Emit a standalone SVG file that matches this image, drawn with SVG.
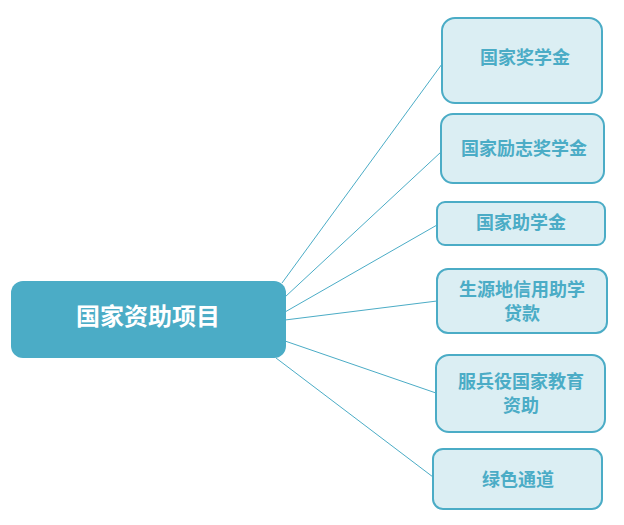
<svg xmlns="http://www.w3.org/2000/svg" width="624" height="525" viewBox="0 0 624 525">
<style>
.leaf{fill:#DBEEF3;stroke:#4BACC6;stroke-width:2}
.lt{font-family:"Noto Sans CJK SC",sans-serif;font-weight:bold;font-size:18px;fill:#4BACC6;text-anchor:middle}
.rt{font-family:"Noto Sans CJK SC",sans-serif;font-weight:bold;font-size:24px;fill:#FFFFFF;text-anchor:middle}
.c{stroke:#4BACC6;stroke-width:1;fill:none}
</style>
<rect width="624" height="525" fill="#FFFFFF"/>
<g id="connectors">
<line class="c" x1="282" y1="283" x2="442" y2="64"/>
<line class="c" x1="285" y1="297" x2="441" y2="152"/>
<line class="c" x1="285" y1="312" x2="437" y2="225"/>
<line class="c" x1="285" y1="320" x2="437" y2="301"/>
<line class="c" x1="285" y1="341" x2="436" y2="393"/>
<line class="c" x1="276" y1="358" x2="433" y2="477"/>
</g>
<g id="root">
<rect x="11" y="281" width="275" height="77" rx="12" fill="#4BACC6"/>
<text class="rt" x="148" y="325">国家资助项目</text>
</g>
<g id="n1">
<rect class="leaf" x="442" y="18" width="160" height="85" rx="13"/>
<text class="lt" x="525" y="64">国家奖学金</text>
</g>
<g id="n2">
<rect class="leaf" x="441" y="114" width="163" height="69" rx="12"/>
<text class="lt" x="524" y="155">国家励志奖学金</text>
</g>
<g id="n3">
<rect class="leaf" x="437" y="202" width="168" height="43" rx="8"/>
<text class="lt" x="521" y="229">国家助学金</text>
</g>
<g id="n4">
<rect class="leaf" x="437" y="269" width="170" height="64" rx="11"/>
<text class="lt" x="522" y="296">生源地信用助学</text>
<text class="lt" x="522" y="320">贷款</text>
</g>
<g id="n5">
<rect class="leaf" x="436" y="355" width="169" height="77" rx="13"/>
<text class="lt" x="521" y="388">服兵役国家教育</text>
<text class="lt" x="521" y="412">资助</text>
</g>
<g id="n6">
<rect class="leaf" x="433" y="449" width="169" height="60" rx="10"/>
<text class="lt" x="518" y="486">绿色通道</text>
</g>
</svg>
